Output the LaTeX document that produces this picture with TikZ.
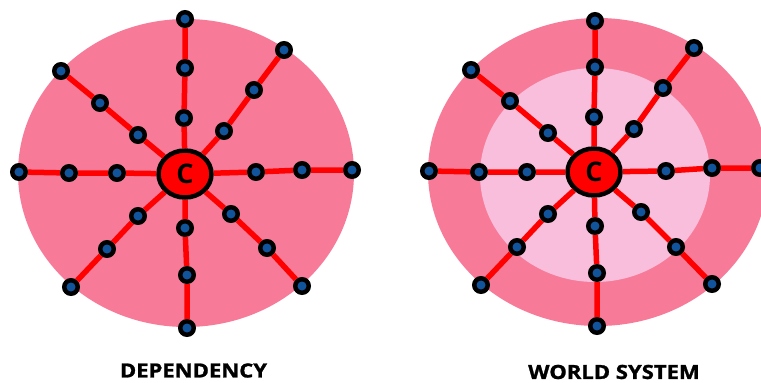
\documentclass[tikz,border=0pt]{standalone}
\usepackage{fontspec}
\setsansfont{Open Sans}
\newfontfamily\capfont{Open Sans}[UprightFont=*, BoldFeatures={FakeBold=1.2}]
\usetikzlibrary{shapes.geometric}
\definecolor{outerpink}{RGB}{247,123,152}
\definecolor{innerpink}{RGB}{249,190,220}
\definecolor{spokered}{RGB}{255,0,0}
\definecolor{dotblue}{RGB}{18,84,156}
\begin{document}
\begin{tikzpicture}[x=1pt,y=-1pt,
  dot/.style={circle,fill=dotblue,draw=black,line width=4.5pt,minimum size=13.5pt,inner sep=0pt},
  core/.style={ellipse,fill=spokered,draw=black,line width=4.5pt,minimum width=53pt,minimum height=47pt,inner sep=0pt,
    font=\sffamily\bfseries\fontsize{27}{27}\selectfont},
  spoke/.style={draw=spokered,line width=5.5pt},
  caption/.style={font=\capfont\bfseries\fontsize{19.5}{19.5}\selectfont,inner sep=0pt,xscale=1.13}]
\useasboundingbox (0,0) rectangle (761,383);
\clip (0,0) rectangle (761,383);

% ---------- left: dependency ----------
\fill[outerpink] (186,173) ellipse [x radius=168, y radius=154];
\node[core] (Lc) at (185,174) {C};
\node[dot] (Ln1) at (184,118) {}; \node[dot] (Ln2) at (185,68) {}; \node[dot] (Ln3) at (185,19) {};
\node[dot] (Lne1) at (224,131) {}; \node[dot] (Lne2) at (254,90) {}; \node[dot] (Lne3) at (284,50) {};
\node[dot] (Le1) at (256,172) {}; \node[dot] (Le2) at (302,170) {}; \node[dot] (Le3) at (352,170) {};
\node[dot] (Lse1) at (231,214) {}; \node[dot] (Lse2) at (267,248) {}; \node[dot] (Lse3) at (302,286) {};
\node[dot] (Ls1) at (185,228) {}; \node[dot] (Ls2) at (187,275) {}; \node[dot] (Ls3) at (187,328) {};
\node[dot] (Lsw1) at (138,216) {}; \node[dot] (Lsw2) at (107,249) {}; \node[dot] (Lsw3) at (71,287) {};
\node[dot] (Lw1) at (117,173) {}; \node[dot] (Lw2) at (69,173) {}; \node[dot] (Lw3) at (19,172) {};
\node[dot] (Lnw1) at (138,135) {}; \node[dot] (Lnw2) at (100,103) {}; \node[dot] (Lnw3) at (61,71) {};
\foreach \d in {n,ne,e,se,s,sw,w,nw}
  \draw[spoke] (Lc) -- (L\d1) (L\d1) -- (L\d2) (L\d2) -- (L\d3);
\node[caption] (Lcap) at (193.5,370.5) {DEPENDENCY};

% ---------- right: world system ----------
\fill[outerpink] (598,172) ellipse [x radius=170, y radius=154];
\fill[innerpink] (595,175) ellipse [x radius=115, y radius=107];
\node[core] (Rc) at (594,172) {C};
\node[dot] (Rn1) at (594,117) {}; \node[dot] (Rn2) at (595,67) {}; \node[dot] (Rn3) at (595,21) {};
\node[dot] (Rne1) at (634,129) {}; \node[dot] (Rne2) at (663,88) {}; \node[dot] (Rne3) at (694,48) {};
\node[dot] (Re1) at (666,171) {}; \node[dot] (Re2) at (712,168) {}; \node[dot] (Re3) at (760,168) {};
\node[dot] (Rse1) at (641,212) {}; \node[dot] (Rse2) at (676,247) {}; \node[dot] (Rse3) at (712,284) {};
\node[dot] (Rs1) at (595,226) {}; \node[dot] (Rs2) at (597,273) {}; \node[dot] (Rs3) at (597,326) {};
\node[dot] (Rsw1) at (548,214) {}; \node[dot] (Rsw2) at (517,247) {}; \node[dot] (Rsw3) at (481,285) {};
\node[dot] (Rw1) at (527,172) {}; \node[dot] (Rw2) at (479,172) {}; \node[dot] (Rw3) at (429,171) {};
\node[dot] (Rnw1) at (548,133) {}; \node[dot] (Rnw2) at (510,101) {}; \node[dot] (Rnw3) at (471,70) {};
\foreach \d in {n,ne,e,se,s,sw,w,nw}
  \draw[spoke] (Rc) -- (R\d1) (R\d1) -- (R\d2) (R\d2) -- (R\d3);
\node[caption] (Rcap) at (614,372) {WORLD SYSTEM};
\end{tikzpicture}
\end{document}
